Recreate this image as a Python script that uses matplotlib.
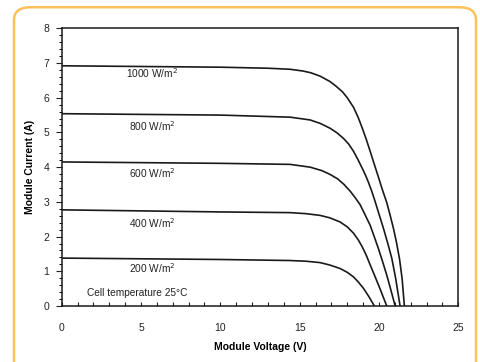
import matplotlib
matplotlib.use("Agg")
import matplotlib.pyplot as plt
from matplotlib.patches import FancyBboxPatch
from matplotlib.ticker import MultipleLocator

plt.rcParams['font.family'] = ['Liberation Sans', 'DejaVu Sans']

# I-V curves (voltage V, current A)
v_1000 = [0, 5, 10, 13, 14.4, 15.2, 15.7, 16.3, 16.9, 17.3, 17.7, 18.0, 18.4, 18.7, 18.95,
          19.2, 19.45, 19.7, 19.96, 20.2, 20.49, 20.7, 20.91, 21.1, 21.3, 21.46, 21.60]
i_1000 = [6.92, 6.90, 6.88, 6.85, 6.82, 6.77, 6.72, 6.62, 6.47, 6.33, 6.17, 6.00, 5.72, 5.42, 5.12,
          4.80, 4.45, 4.09, 3.72, 3.37, 2.98, 2.62, 2.24, 1.84, 1.34, 0.78, 0]

v_800 = [0, 5, 10, 14.4, 15.66, 16.3, 16.92, 17.35, 17.76, 18.1, 18.39, 18.65, 18.92, 19.15,
         19.33, 19.55, 19.75, 20.0, 20.28, 20.55, 20.81, 21.05, 21.33]
i_800 = [5.54, 5.52, 5.50, 5.44, 5.36, 5.26, 5.12, 4.99, 4.83, 4.66, 4.46, 4.24, 3.99, 3.77,
         3.57, 3.30, 3.02, 2.65, 2.24, 1.81, 1.37, 0.80, 0]

v_600 = [0, 5, 10, 14.4, 15.66, 16.4, 16.92, 17.4, 17.8, 18.2, 18.5, 18.81, 19.1, 19.44,
         19.7, 19.96, 20.2, 20.49, 20.75, 21.02]
i_600 = [4.15, 4.13, 4.11, 4.08, 4.00, 3.90, 3.79, 3.66, 3.50, 3.30, 3.12, 2.92, 2.65, 2.33,
         2.00, 1.66, 1.32, 0.89, 0.46, 0]

v_400 = [0, 5, 10, 14.4, 15.4, 16.29, 16.9, 17.55, 18.0, 18.39, 18.7, 18.95, 19.2, 19.44,
         19.75, 20.07, 20.3, 20.49]
i_400 = [2.77, 2.74, 2.71, 2.69, 2.66, 2.61, 2.54, 2.42, 2.28, 2.10, 1.90, 1.70, 1.46, 1.19,
         0.85, 0.49, 0.22, 0]

v_200 = [0, 5, 10, 14.39, 15.4, 16.29, 16.9, 17.55, 18.0, 18.39, 18.7, 19.02, 19.35, 19.71]
i_200 = [1.38, 1.36, 1.34, 1.31, 1.29, 1.25, 1.18, 1.08, 0.97, 0.84, 0.69, 0.51, 0.28, 0]

curves = [(v_1000, i_1000), (v_800, i_800), (v_600, i_600), (v_400, i_400), (v_200, i_200)]
labels = ['1000 W/m$^2$', '800 W/m$^2$', '600 W/m$^2$', '400 W/m$^2$', '200 W/m$^2$']
label_y = [6.71, 5.19, 3.82, 2.40, 1.09]

fig = plt.figure(figsize=(4.8, 3.62), dpi=100)

# rounded orange frame around the whole chart
frame = FancyBboxPatch((14 / 480, -0.1), 462 / 480, 1.08, transform=fig.transFigure,
                       boxstyle="round,pad=0,rounding_size=0.035",
                       fc='none', ec='#FDC15C', lw=1.8, clip_on=False)
fig.patches.append(frame)

ax = fig.add_axes([0.1285, 0.1547, 0.8263, 0.7671])

for (v, i) in curves:
    ax.plot(v, i, color='#1a1a1a', lw=1.2, solid_joinstyle='round')

for lab, y in zip(labels, label_y):
    ax.text(5.7, y, lab, fontsize=7.3, ha='center', va='center', color='#222222')
ax.text(1.58, 0.38, 'Cell temperature 25\u00b0C', fontsize=7.3, ha='left', va='center', color='#222222')

ax.set_xlim(0, 25)
ax.set_ylim(0, 8)
ax.xaxis.set_major_locator(MultipleLocator(5))
ax.xaxis.set_minor_locator(MultipleLocator(1))
ax.yaxis.set_major_locator(MultipleLocator(1))
ax.yaxis.set_minor_locator(MultipleLocator(0.2))

ax.tick_params(axis='x', which='both', direction='in', length=3, width=0.8,
               pad=12, labelsize=7.5, colors='#222222')
ax.tick_params(axis='y', which='major', direction='out', length=4, width=0.8,
               pad=5, labelsize=7.5, colors='#222222')
ax.tick_params(axis='y', which='minor', direction='out', length=2.5, width=0.7)

for s in ax.spines.values():
    s.set_linewidth(1.1)
    s.set_color('#1a1a1a')

ax.set_xlabel('Module Voltage (V)', fontsize=7.5, fontweight='bold', labelpad=7)
ax.set_ylabel('Module Current (A)', fontsize=7.5, fontweight='bold', labelpad=6)

fig.savefig('out.png', dpi=100)
